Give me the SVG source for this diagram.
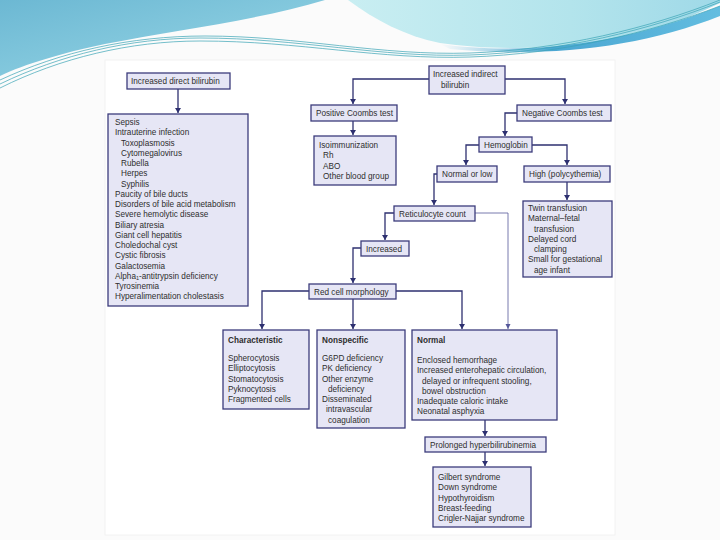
<svg xmlns="http://www.w3.org/2000/svg" width="720" height="540" viewBox="0 0 720 540">
<defs>
<linearGradient id="gl" x1="0" y1="0" x2="1" y2="1">
<stop offset="0" stop-color="#6cb8d3"/><stop offset="1" stop-color="#9ad8e7"/>
</linearGradient>
<linearGradient id="gr" x1="0" y1="0" x2="1" y2="0">
<stop offset="0" stop-color="#c9eef2"/><stop offset="0.6" stop-color="#b3e4ec"/><stop offset="1" stop-color="#9fd9e8"/>
</linearGradient>
<linearGradient id="gb" x1="0" y1="0" x2="1" y2="0">
<stop offset="0" stop-color="#5fb4d8" stop-opacity="0"/><stop offset="0.4" stop-color="#4aa6d2"/><stop offset="1" stop-color="#63bde0"/>
</linearGradient>
<marker id="ah" markerWidth="6" markerHeight="6" refX="5" refY="3" orient="auto" markerUnits="userSpaceOnUse">
<path d="M0,0 L5,3 L0,6 Z" fill="#2e3070"/>
</marker>
<marker id="ah2" markerWidth="6" markerHeight="6" refX="5" refY="3" orient="auto" markerUnits="userSpaceOnUse">
<path d="M0,0.5 L5,3 L0,5.5 Z" fill="#55589a"/>
</marker>
<style>
.b{fill:#e6e6f5;stroke:#3c3c7c;stroke-width:1.3}
.t{font-family:"Liberation Sans",Arial,sans-serif;font-size:8.2px;fill:#2e2e2e}
.h{font-weight:bold}
.c{fill:none;stroke:#2e3070;stroke-width:1.3;marker-end:url(#ah)}
.c2{fill:none;stroke:#55589a;stroke-width:0.8;marker-end:url(#ah2)}
.w{fill:none;stroke:#3aa3b5;stroke-width:0.7}
</style>
</defs>
<rect width="720" height="540" fill="#fbfbfb"/>
<rect x="105" y="60" width="510" height="475" fill="#ffffff" stroke="#f2f2f2"/>
<g id="banner">
<path d="M0,0 H325 C260,20 175,30 105,44 C62,53 25,64 0,76 Z" fill="url(#gl)"/>
<path d="M348,0 H720 V3 C680,22 640,37 585,44 C535,50 480,49 440,43 C405,36 375,20 348,0 Z" fill="url(#gr)"/>
<path d="M440,44 C510,54 610,50 720,6 V16 C640,48 545,58 450,49 Z" fill="url(#gb)"/>
<path class="w" d="M0,84 C60,55 130,38 200,38 C300,38 380,58 470,55 C560,52 650,30 720,2"/>
<path class="w" d="M0,80 C60,52 130,36 205,36 C300,36 380,56 470,53 C560,50 650,28 720,0"/>
<path class="w" d="M0,88 C60,58 130,41 200,41 C300,41 380,60 470,57 C560,54 650,33 720,6"/>
</g>
<g id="connectors">
<path class="c" d="M178,89 V113"/>
<path class="c" d="M429,79 H353 V104"/>
<path class="c" d="M505,79 H565 V104"/>
<path class="c" d="M353,121 V135"/>
<path class="c" d="M517,113 H505 V136"/>
<path class="c" d="M479,145 H466 V165"/>
<path class="c" d="M532,145 H567 V165"/>
<path class="c" d="M567,182 V200"/>
<path class="c" d="M437,174 H434 V205"/>
<path class="c" d="M394,213 H385 V240"/>
<path class="c2" d="M475,213 H508 V329"/>
<path class="c" d="M361,248 H353 V283"/>
<path class="c" d="M309,291 H262 V329"/>
<path class="c" d="M353,299 V329"/>
<path class="c" d="M396,291 H462 V329"/>
<path class="c" d="M485,420 V436"/>
<path class="c" d="M485,452 V466"/>
</g>
<g id="n-direct">
<rect class="b" x="127" y="73" width="103" height="16"/>
<text class="t" x="131" y="84">Increased direct bilirubin</text>
</g>
<g id="n-direct-causes">
<rect class="b" x="108" y="114" width="140" height="192"/>
<text class="t" x="115" y="125">Sepsis</text>
<text class="t" x="115" y="135.3">Intrauterine infection</text>
<text class="t" x="121" y="145.5">Toxoplasmosis</text>
<text class="t" x="121" y="155.8">Cytomegalovirus</text>
<text class="t" x="121" y="166">Rubella</text>
<text class="t" x="121" y="176.3">Herpes</text>
<text class="t" x="121" y="186.5">Syphilis</text>
<text class="t" x="115" y="196.8">Paucity of bile ducts</text>
<text class="t" x="115" y="207">Disorders of bile acid metabolism</text>
<text class="t" x="115" y="217.3">Severe hemolytic disease</text>
<text class="t" x="115" y="227.5">Biliary atresia</text>
<text class="t" x="115" y="237.8">Giant cell hepatitis</text>
<text class="t" x="115" y="248">Choledochal cyst</text>
<text class="t" x="115" y="258.3">Cystic fibrosis</text>
<text class="t" x="115" y="268.5">Galactosemia</text>
<text class="t" x="115" y="278.8">Alpha<tspan font-size="5.5" dy="1.5">1</tspan><tspan dy="-1.5">-antitrypsin deficiency</tspan></text>
<text class="t" x="115" y="289">Tyrosinemia</text>
<text class="t" x="115" y="299.3">Hyperalimentation cholestasis</text>
</g>
<g id="n-indirect">
<rect class="b" x="429" y="66" width="76" height="28"/>
<text class="t" x="433" y="77">Increased indirect</text>
<text class="t" x="441" y="88">bilirubin</text>
</g>
<g id="n-poscoombs">
<rect class="b" x="311" y="105" width="86" height="16"/>
<text class="t" x="316" y="116">Positive Coombs test</text>
</g>
<g id="n-negcoombs">
<rect class="b" x="517" y="105" width="94" height="16"/>
<text class="t" x="522" y="116">Negative Coombs test</text>
</g>
<g id="n-isoimmunization">
<rect class="b" x="314" y="136" width="82" height="49"/>
<text class="t" x="319" y="148">Isoimmunization</text>
<text class="t" x="323" y="158.3">Rh</text>
<text class="t" x="323" y="168.5">ABO</text>
<text class="t" x="323" y="178.8">Other blood group</text>
</g>
<g id="n-hemoglobin">
<rect class="b" x="479" y="137" width="53" height="15"/>
<text class="t" x="484" y="147.5">Hemoglobin</text>
</g>
<g id="n-normallow">
<rect class="b" x="437" y="166" width="60" height="16"/>
<text class="t" x="442" y="177">Normal or low</text>
</g>
<g id="n-high">
<rect class="b" x="524" y="166" width="86" height="16"/>
<text class="t" x="529" y="177">High (polycythemia)</text>
</g>
<g id="n-polycauses">
<rect class="b" x="523" y="201" width="89" height="76"/>
<text class="t" x="528" y="211">Twin transfusion</text>
<text class="t" x="528" y="221.3">Maternal–fetal</text>
<text class="t" x="534" y="231.5">transfusion</text>
<text class="t" x="528" y="241.8">Delayed cord</text>
<text class="t" x="534" y="252">clamping</text>
<text class="t" x="528" y="262.3">Small for gestational</text>
<text class="t" x="534" y="272.5">age infant</text>
</g>
<g id="n-retic">
<rect class="b" x="394" y="206" width="81" height="15"/>
<text class="t" x="399" y="216.5">Reticulocyte count</text>
</g>
<g id="n-increased">
<rect class="b" x="361" y="241" width="48" height="15"/>
<text class="t" x="366" y="251.5">Increased</text>
</g>
<g id="n-redcell">
<rect class="b" x="309" y="284" width="87" height="15"/>
<text class="t" x="314" y="294.5">Red cell morphology</text>
</g>
<g id="n-characteristic">
<rect class="b" x="223" y="330" width="86" height="79"/>
<text class="t h" x="228" y="343">Characteristic</text>
<text class="t" x="228" y="361">Spherocytosis</text>
<text class="t" x="228" y="371.3">Elliptocytosis</text>
<text class="t" x="228" y="381.5">Stomatocytosis</text>
<text class="t" x="228" y="391.8">Pyknocytosis</text>
<text class="t" x="228" y="402">Fragmented cells</text>
</g>
<g id="n-nonspecific">
<rect class="b" x="317" y="330" width="88" height="98"/>
<text class="t h" x="322" y="343">Nonspecific</text>
<text class="t" x="322" y="361">G6PD deficiency</text>
<text class="t" x="322" y="371.3">PK deficiency</text>
<text class="t" x="322" y="381.5">Other enzyme</text>
<text class="t" x="328" y="391.8">deficiency</text>
<text class="t" x="322" y="402">Disseminated</text>
<text class="t" x="326" y="412.3">intravascular</text>
<text class="t" x="328" y="422.5">coagulation</text>
</g>
<g id="n-normal">
<rect class="b" x="412" y="330" width="145" height="90"/>
<text class="t h" x="417" y="343">Normal</text>
<text class="t" x="417" y="363">Enclosed hemorrhage</text>
<text class="t" x="417" y="373.3">Increased enterohepatic circulation,</text>
<text class="t" x="422" y="383.5">delayed or infrequent stooling,</text>
<text class="t" x="422" y="393.8">bowel obstruction</text>
<text class="t" x="417" y="404">Inadequate caloric intake</text>
<text class="t" x="417" y="414.3">Neonatal asphyxia</text>
</g>
<g id="n-prolonged">
<rect class="b" x="425" y="437" width="121" height="15"/>
<text class="t" x="430" y="447.5">Prolonged hyperbilirubinemia</text>
</g>
<g id="n-prolonged-causes">
<rect class="b" x="433" y="467" width="98" height="60"/>
<text class="t" x="438" y="480">Gilbert syndrome</text>
<text class="t" x="438" y="490.3">Down syndrome</text>
<text class="t" x="438" y="500.5">Hypothyroidism</text>
<text class="t" x="438" y="510.8">Breast-feeding</text>
<text class="t" x="438" y="521">Crigler-Najjar syndrome</text>
</g>
</svg>
